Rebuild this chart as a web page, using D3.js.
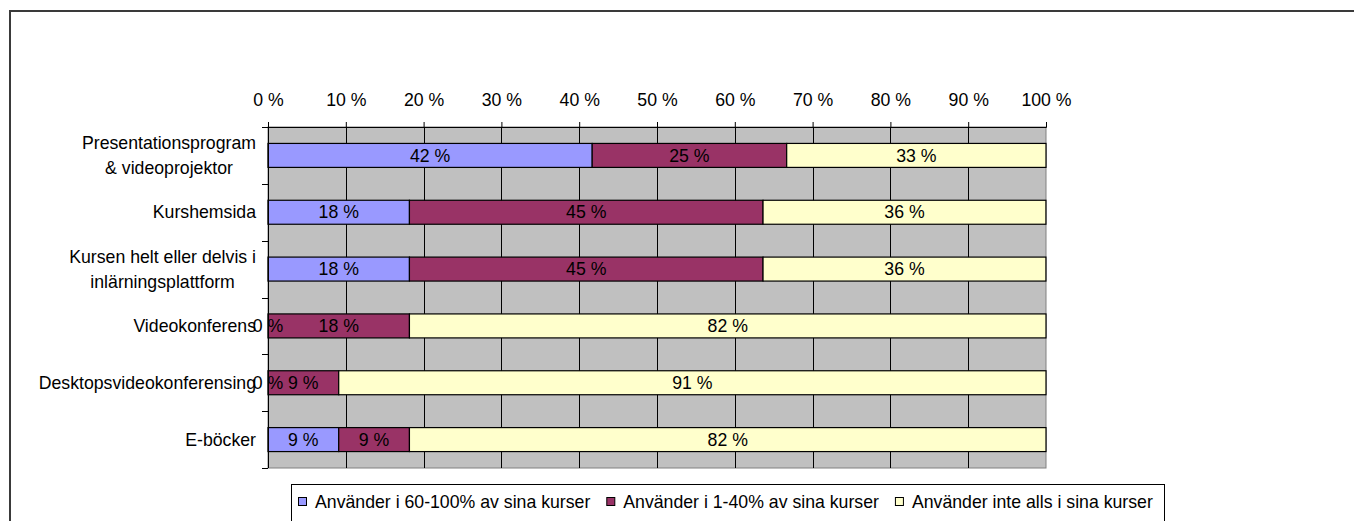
<!DOCTYPE html>
<html>
<head>
<meta charset="utf-8">
<script src="https://cdn.jsdelivr.net/npm/d3@7"></script>
<style>
  body { margin: 0; background: #fff; }
  svg { display: block; font-family: "Liberation Sans", Arial, sans-serif; }
</style>
</head>
<body>
<svg width="1354" height="521"></svg>
<script>
// categories (top to bottom), label lines
var categories = [
  ["Presentationsprogram", "& videoprojektor"],
  ["Kurshemsida"],
  ["Kursen helt eller delvis i", "inlärningsplattform"],
  ["Videokonferens"],
  ["Desktopsvideokonferensing"],
  ["E-böcker"]
]
var seriesNames = [
  "Använder i 60-100% av sina kurser",
  "Använder i 1-40% av sina kurser",
  "Använder inte alls i sina kurser"
]
var colors = ["#9999FF", "#993366", "#FFFFCC"]
// percent per category
var high = [41.67, 18.18, 18.18, 0, 0, 9.09]
var low = [25, 45.45, 45.45, 18.18, 9.09, 9.09]
var none = [33.33, 36.36, 36.36, 81.82, 90.91, 81.82]
var xTicks = [0, 10, 20, 30, 40, 50, 60, 70, 80, 90, 100]

var svg = d3.select("svg")
var fontSize = 17.7

// outer frame
svg.append("path")
  .attr("d", "M10,530 L10,11 L1360,11")
  .attr("fill", "none")
  .attr("stroke", "#3a3a3a")
  .attr("stroke-width", 2)

// plot box (note: "top" is reserved on window)
var pLeft = 268, pRight = 1046, pTop = 127, pBottom = 468

var x = d3.scaleLinear().domain([0, 100]).range([pLeft, pRight])
var y = d3.scaleBand()
  .domain(d3.range(categories.length))
  .range([pTop, pBottom])
  .paddingInner(0.578)
  .paddingOuter(0.289)

// plot background
svg.append("rect")
  .attr("x", pLeft).attr("y", pTop)
  .attr("width", pRight - pLeft).attr("height", pBottom - pTop)
  .attr("fill", "#C0C0C0")
  .attr("stroke", "#808080")
  .attr("stroke-width", 1)

// vertical gridlines
svg.append("g").selectAll("line")
  .data(xTicks.slice(1, -1))
  .enter().append("line")
  .attr("x1", function(d) { return Math.round(x(d)) + 0.5 })
  .attr("x2", function(d) { return Math.round(x(d)) + 0.5 })
  .attr("y1", pTop).attr("y2", pBottom)
  .attr("stroke", "#000")
  .attr("stroke-width", 1)

// stacked data
var rows = categories.map(function(c, i) {
  return { i: i, vals: [high[i], low[i], none[i]] }
})
var segs = []
rows.forEach(function(r) {
  var acc = 0
  r.vals.forEach(function(v, k) {
    segs.push({ i: r.i, k: k, x0: acc, x1: acc + v, v: v })
    acc += v
  })
})

svg.append("g").selectAll("rect")
  .data(segs)
  .enter().append("rect")
  .attr("x", function(d) { return x(d.x0) })
  .attr("width", function(d) { return x(d.x1) - x(d.x0) })
  .attr("y", function(d) { return y(d.i) })
  .attr("height", y.bandwidth())
  .attr("fill", function(d) { return colors[d.k] })
  .attr("stroke", "#000")
  .attr("stroke-width", 1.2)

// value labels
svg.append("g").selectAll("text")
  .data(segs)
  .enter().append("text")
  .attr("x", function(d) { return (x(d.x0) + x(d.x1)) / 2 })
  .attr("y", function(d) { return y(d.i) + y.bandwidth() / 2 })
  .attr("dy", "0.35em")
  .attr("text-anchor", "middle")
  .attr("font-size", fontSize)
  .attr("fill", "#000")
  .text(function(d) { return Math.round(d.v) + " %" })

// top axis
var xAxis = d3.axisTop(x)
  .tickValues(xTicks)
  .tickSize(5)
  .tickPadding(16)
  .tickFormat(function(d) { return d + " %" })
var gx = svg.append("g")
  .attr("transform", "translate(0," + pTop + ")")
  .call(xAxis)
gx.select(".domain").attr("stroke", "#000")
gx.selectAll(".tick line").attr("stroke", "#000")
gx.selectAll("text")
  .attr("font-size", fontSize)
  .attr("font-family", "Liberation Sans, Arial, sans-serif")
  .attr("fill", "#000")

// left axis line + ticks at category boundaries
var step = y.step()
svg.append("line")
  .attr("x1", pLeft + 0.5).attr("x2", pLeft + 0.5)
  .attr("y1", pTop).attr("y2", pBottom)
  .attr("stroke", "#000")
svg.append("g").selectAll("line")
  .data(d3.range(categories.length + 1))
  .enter().append("line")
  .attr("x1", pLeft - 6).attr("x2", pLeft)
  .attr("y1", function(d) { return Math.round(pTop + d * step) + 0.5 })
  .attr("y2", function(d) { return Math.round(pTop + d * step) + 0.5 })
  .attr("stroke", "#000")

// category labels (block right aligned, lines centred)
var labelRight = 256
categories.forEach(function(lines, i) {
  var cy = y(i) + y.bandwidth() / 2
  var g = svg.append("g")
  var texts = lines.map(function(line, j) {
    return g.append("text")
      .attr("y", cy + (j - (lines.length - 1) / 2) * 25)
      .attr("dy", "0.35em")
      .attr("text-anchor", "middle")
      .attr("font-size", fontSize)
      .attr("fill", "#000")
      .text(line)
  })
  var maxW = d3.max(texts, function(t) { return t.node().getComputedTextLength() })
  texts.forEach(function(t) { t.attr("x", labelRight - maxW / 2) })
})

// legend
var legend = svg.append("g")
legend.append("rect")
  .attr("x", 291.5).attr("y", 484.5)
  .attr("width", 873).attr("height", 60)
  .attr("fill", "#fff")
  .attr("stroke", "#000")
var lx = 298
seriesNames.forEach(function(name, k) {
  legend.append("rect")
    .attr("x", lx + 0.5).attr("y", 497.5)
    .attr("width", 8).attr("height", 8)
    .attr("fill", colors[k])
    .attr("stroke", "#000")
  var t = legend.append("text")
    .attr("x", lx + 17)
    .attr("y", 502)
    .attr("dy", "0.35em")
    .attr("font-size", fontSize)
    .attr("fill", "#000")
    .text(name)
  lx = lx + 17 + t.node().getComputedTextLength() + 16
})
</script>
</body>
</html>
